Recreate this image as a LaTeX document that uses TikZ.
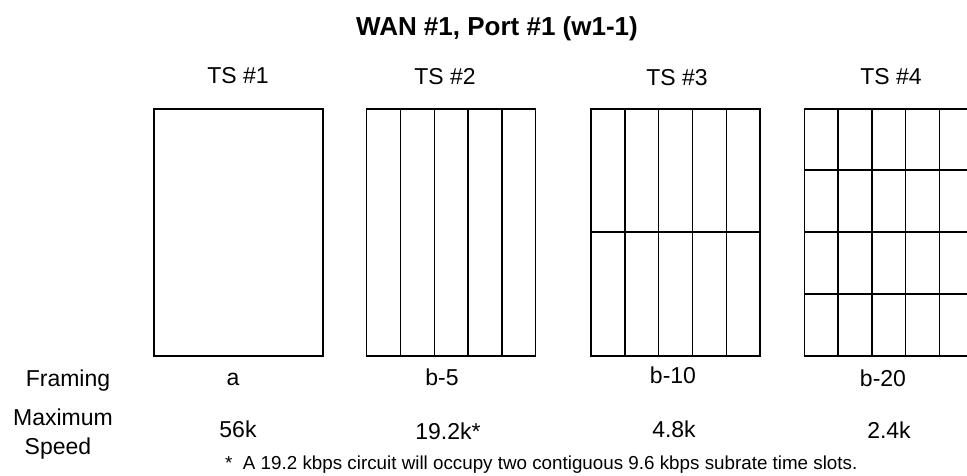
\documentclass[tikz,border=0pt]{standalone}
\usepackage{fontspec}
\setmainfont{Liberation Sans}
\usetikzlibrary{positioning,calc}

\begin{document}
\begin{tikzpicture}[x=1pt,y=-1pt]

\tikzstyle{slot} = [draw, line width=1.4pt]
\tikzstyle{lbl} = [font=\fontsize{23}{27}\selectfont, anchor=base, inner sep=0pt]
\useasboundingbox (0,0) rectangle (967,476);

\node[lbl, font=\bfseries\fontsize{26}{30}\selectfont] (title) at (497,36) {WAN \#1, Port \#1 (w1-1)};

% time slots
\begin{scope}[xshift=154pt]
\draw[slot] (0,109) rectangle (169,356);
\end{scope}

\begin{scope}[xshift=366.7pt]
\draw[slot] (0,109) rectangle (169,356);
\foreach \i in {1,...,4} \draw[slot] (33.8*\i,109) -- (33.8*\i,356);
\end{scope}

\begin{scope}[xshift=591pt]
\draw[slot] (0,109) rectangle (169,356);
\foreach \i in {1,...,4} \draw[slot] (33.8*\i,109) -- (33.8*\i,356);
\draw[slot] (0,232) -- (169,232);
\end{scope}

\begin{scope}[xshift=804.3pt]
\draw[slot] (0,109) rectangle (169,356);
\foreach \i in {1,...,4} \draw[slot] (33.8*\i,109) -- (33.8*\i,356);
\foreach \y in {170,232,294} \draw[slot] (0,\y) -- (169,\y);
\end{scope}

% headings
\node[lbl] (ts1) at (238,84) {TS \#1};
\node[lbl] (ts2) at (445,85) {TS \#2};
\node[lbl] (ts3) at (677,86) {TS \#3};
\node[lbl] (ts4) at (891,85) {TS \#4};

% framing
\node[lbl] (framing) at (68,386) {Framing};
\node[lbl] (fr1) at (233,385) {a};
\node[lbl] (fr2) at (442,385) {b-5};
\node[lbl] (fr3) at (673,383) {b-10};
\node[lbl] (fr4) at (883,386) {b-20};

% speed
\node[lbl] (maximum) at (63,425) {Maximum};
\node[lbl] (speed) at (58,454) {Speed};
\node[lbl] (sp1) at (238,437) {56k};
\node[lbl] (sp2) at (448,439) {19.2k*};
\node[lbl] (sp3) at (674,437) {4.8k};
\node[lbl] (sp4) at (889,438) {2.4k};

\node[lbl, anchor=base west, font=\fontsize{18.8}{22}\selectfont] (note) at (225,469) {*\ \ A 19.2 kbps circuit will occupy two contiguous 9.6 kbps subrate time slots.};

\end{tikzpicture}
\end{document}
